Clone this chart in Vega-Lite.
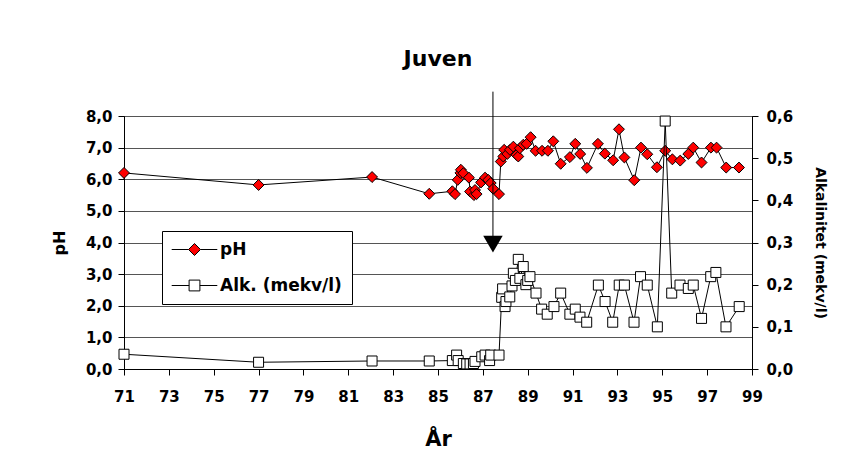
{
  "$schema": "https://vega.github.io/schema/vega-lite/v6.json",
  "width": 628,
  "height": 253,
  "autosize": "none",
  "padding": {"left": 124, "top": 116, "right": 97, "bottom": 94},
  "background": "white",
  "config": {
    "font": "DejaVu Sans",
    "view": {"stroke": "black", "strokeWidth": 1},
    "axis": {
      "labelFont": "DejaVu Sans", "labelFontWeight": "bold", "labelColor": "black",
      "titleFont": "DejaVu Sans", "titleFontWeight": "bold", "titleColor": "black",
      "domainColor": "black", "tickColor": "black", "gridColor": "#555555"
    }
  },
  "title": {"text": "Juven", "fontSize": 22, "fontWeight": "bold", "font": "DejaVu Sans", "color": "black", "offset": 20, "anchor": "middle", "frame": "group"},
  "datasets": {
    "ph": [
      {"t": 71.0, "pH": 6.2}, {"t": 77.0, "pH": 5.82}, {"t": 82.06, "pH": 6.07}, {"t": 84.61, "pH": 5.54},
      {"t": 85.64, "pH": 5.62}, {"t": 85.76, "pH": 5.53}, {"t": 85.88, "pH": 5.98}, {"t": 86.0, "pH": 6.2},
      {"t": 86.02, "pH": 6.3}, {"t": 86.13, "pH": 6.19}, {"t": 86.38, "pH": 6.05}, {"t": 86.43, "pH": 5.61},
      {"t": 86.6, "pH": 5.5}, {"t": 86.65, "pH": 5.66}, {"t": 86.72, "pH": 5.53}, {"t": 86.92, "pH": 5.9},
      {"t": 87.1, "pH": 6.05}, {"t": 87.24, "pH": 5.98}, {"t": 87.35, "pH": 5.88}, {"t": 87.46, "pH": 5.7},
      {"t": 87.72, "pH": 5.53}, {"t": 87.8, "pH": 6.56}, {"t": 87.91, "pH": 6.72}, {"t": 87.95, "pH": 6.93},
      {"t": 88.09, "pH": 6.8}, {"t": 88.21, "pH": 6.93}, {"t": 88.36, "pH": 7.03}, {"t": 88.5, "pH": 6.77},
      {"t": 88.58, "pH": 6.72}, {"t": 88.65, "pH": 6.98}, {"t": 88.8, "pH": 7.09}, {"t": 88.95, "pH": 7.12},
      {"t": 89.13, "pH": 7.33}, {"t": 89.35, "pH": 6.9}, {"t": 89.64, "pH": 6.9}, {"t": 89.9, "pH": 6.9},
      {"t": 90.14, "pH": 7.2}, {"t": 90.47, "pH": 6.49}, {"t": 90.88, "pH": 6.7}, {"t": 91.12, "pH": 7.12},
      {"t": 91.34, "pH": 6.8}, {"t": 91.64, "pH": 6.36}, {"t": 92.13, "pH": 7.12}, {"t": 92.44, "pH": 6.81},
      {"t": 92.81, "pH": 6.6}, {"t": 93.07, "pH": 7.58}, {"t": 93.31, "pH": 6.69}, {"t": 93.75, "pH": 5.97},
      {"t": 94.05, "pH": 7.0}, {"t": 94.33, "pH": 6.79}, {"t": 94.76, "pH": 6.38}, {"t": 95.13, "pH": 6.9},
      {"t": 95.45, "pH": 6.63}, {"t": 95.8, "pH": 6.59}, {"t": 96.16, "pH": 6.8}, {"t": 96.38, "pH": 7.0},
      {"t": 96.75, "pH": 6.53}, {"t": 97.17, "pH": 7.0}, {"t": 97.42, "pH": 7.0}, {"t": 97.85, "pH": 6.37},
      {"t": 98.42, "pH": 6.37}
    ],
    "alk": [
      {"t": 71.0, "alk": 0.035}, {"t": 77.0, "alk": 0.016}, {"t": 82.06, "alk": 0.019}, {"t": 84.61, "alk": 0.019},
      {"t": 85.64, "alk": 0.02}, {"t": 85.83, "alk": 0.033}, {"t": 85.9, "alk": 0.02}, {"t": 86.13, "alk": 0.013},
      {"t": 86.28, "alk": 0.012}, {"t": 86.43, "alk": 0.012}, {"t": 86.58, "alk": 0.013}, {"t": 86.65, "alk": 0.018},
      {"t": 86.95, "alk": 0.029}, {"t": 87.1, "alk": 0.033}, {"t": 87.3, "alk": 0.02}, {"t": 87.35, "alk": 0.033},
      {"t": 87.72, "alk": 0.033}, {"t": 87.84, "alk": 0.17}, {"t": 87.88, "alk": 0.19}, {"t": 87.99, "alk": 0.148},
      {"t": 88.03, "alk": 0.16}, {"t": 88.2, "alk": 0.171}, {"t": 88.3, "alk": 0.197}, {"t": 88.36, "alk": 0.227},
      {"t": 88.45, "alk": 0.21}, {"t": 88.58, "alk": 0.26}, {"t": 88.65, "alk": 0.215}, {"t": 88.8, "alk": 0.243},
      {"t": 88.92, "alk": 0.2}, {"t": 89.0, "alk": 0.21}, {"t": 89.1, "alk": 0.219}, {"t": 89.37, "alk": 0.18},
      {"t": 89.62, "alk": 0.142}, {"t": 89.87, "alk": 0.13}, {"t": 90.17, "alk": 0.148}, {"t": 90.47, "alk": 0.18},
      {"t": 90.88, "alk": 0.13}, {"t": 91.12, "alk": 0.142}, {"t": 91.33, "alk": 0.123}, {"t": 91.63, "alk": 0.111},
      {"t": 92.15, "alk": 0.199}, {"t": 92.45, "alk": 0.16}, {"t": 92.79, "alk": 0.111}, {"t": 93.08, "alk": 0.199},
      {"t": 93.31, "alk": 0.199}, {"t": 93.74, "alk": 0.111}, {"t": 94.03, "alk": 0.219}, {"t": 94.33, "alk": 0.199},
      {"t": 94.78, "alk": 0.1}, {"t": 95.13, "alk": 0.588}, {"t": 95.42, "alk": 0.18}, {"t": 95.79, "alk": 0.199},
      {"t": 96.16, "alk": 0.191}, {"t": 96.38, "alk": 0.199}, {"t": 96.75, "alk": 0.12}, {"t": 97.16, "alk": 0.219},
      {"t": 97.39, "alk": 0.229}, {"t": 97.84, "alk": 0.1}, {"t": 98.43, "alk": 0.148}
    ],
    "marker": [{"t": 87.45, "top": 8.77, "bot": 4.2, "tip": 3.95}]
  },
  "layer": [
    {
      "encoding": {
        "x": {
          "field": "t", "type": "quantitative",
          "scale": {"domain": [71, 99], "nice": false, "zero": false},
          "axis": {
            "values": [71, 73, 75, 77, 79, 81, 83, 85, 87, 89, 91, 93, 95, 97, 99],
            "grid": false, "labelFontSize": 15, "tickSize": 6, "labelPadding": 14,
            "title": "År", "titleFontSize": 21, "titlePadding": 24, "labelFlush": false
          }
        },
        "y": {
          "field": "pH", "type": "quantitative",
          "scale": {"domain": [0, 8], "nice": false},
          "axis": {
            "orient": "left", "values": [0, 1, 2, 3, 4, 5, 6, 7, 8], "grid": true, "gridOpacity": 1,
            "labelExpr": "replace(format(datum.value, '.1f'), '.', ',')",
            "labelFontSize": 15, "tickSize": 6, "labelPadding": 6,
            "title": "pH", "titleFontSize": 16, "titlePadding": 18
          }
        }
      },
      "layer": [
        {"data": {"name": "ph"}, "mark": {"type": "line", "color": "black", "strokeWidth": 1}},
        {
          "data": {"name": "ph"},
          "mark": {"type": "point", "shape": "diamond", "filled": true, "size": 120, "stroke": "black", "strokeWidth": 1, "opacity": 1},
          "encoding": {
            "fill": {
              "datum": "pH", "type": "nominal",
              "scale": {"domain": ["pH", "Alk. (mekv/l)"], "range": ["#ff0000", "#ffffff"]},
              "legend": {
                "orient": "none", "legendX": 38, "legendY": 115, "title": null,
                "strokeColor": "black", "fillColor": "white", "padding": 10,
                "labelFont": "DejaVu Sans", "labelFontWeight": "bold", "labelFontSize": 17, "labelColor": "black",
                "symbolSize": 144, "symbolOffset": 14, "labelOffset": 17, "rowPadding": 18,
                "symbolStrokeColor": "black", "symbolStrokeWidth": 1,
                "symbolType": {"expr": "datum.value === 'pH' ? 'M-3.8,0H-1M1,0H3.8M-1,0L0,-1L1,0L0,1Z' : 'M-3.8,0H-0.9M0.9,0H3.8M-0.9,-0.9H0.9V0.9H-0.9Z'"}
              }
            }
          }
        },
        {
          "data": {"name": "marker"},
          "mark": {"type": "rule", "color": "black", "strokeWidth": 1},
          "encoding": {"y": {"field": "top", "type": "quantitative"}, "y2": {"field": "bot"}}
        },
        {
          "data": {"name": "marker"},
          "mark": {"type": "point", "shape": "triangle-down", "filled": true, "color": "black", "size": 380, "opacity": 1},
          "encoding": {"y": {"field": "tip", "type": "quantitative"}}
        }
      ]
    },
    {
      "data": {"name": "alk"},
      "encoding": {
        "x": {"field": "t", "type": "quantitative"},
        "y": {
          "field": "alk", "type": "quantitative",
          "scale": {"domain": [0, 0.6], "nice": false},
          "axis": {
            "orient": "right", "values": [0, 0.1, 0.2, 0.3, 0.4, 0.5, 0.6], "grid": false,
            "labelExpr": "replace(format(datum.value, '.1f'), '.', ',')",
            "labelFontSize": 15, "tickSize": 6, "labelPadding": 8,
            "title": "Alkalinitet (mekv/l)", "titleFontSize": 14, "titlePadding": 20
          }
        }
      },
      "layer": [
        {"mark": {"type": "line", "color": "black", "strokeWidth": 1}},
        {
          "mark": {"type": "point", "shape": "square", "filled": true, "size": 100, "stroke": "black", "strokeWidth": 1, "opacity": 1},
          "encoding": {"fill": {"datum": "Alk. (mekv/l)", "type": "nominal"}}
        }
      ]
    }
  ],
  "resolve": {"scale": {"y": "independent"}}
}
